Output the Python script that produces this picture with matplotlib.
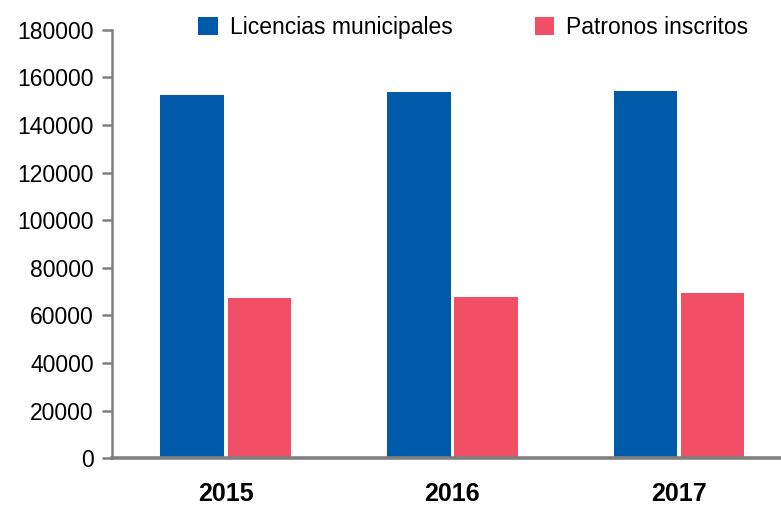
import matplotlib.pyplot as plt
import numpy as np

# Data
years = ['2015', '2016', '2017']
licencias = [152600, 153900, 154300]
patronos = [67500, 67900, 69600]
yticks = list(range(0, 180001, 20000))

blue = '#005aaa'
red = '#f04f65'
gray = '#808080'

plt.rcParams['font.family'] = 'Liberation Sans'

fig = plt.figure(figsize=(7.81, 5.05), dpi=100)
ax = fig.add_axes([0.1434, 0.0925, 0.8566, 0.8483])

x = np.arange(len(years))
w = 0.28
ax.bar(x - 0.148, licencias, width=w, color=blue, label='Licencias municipales')
ax.bar(x + 0.148, patronos, width=w, color=red, label='Patronos inscritos')

ax.set_xlim(-0.502, 2.45)
ax.set_ylim(0, 180000)
ax.set_yticks(yticks)
ax.set_yticklabels([str(t) for t in yticks], fontsize=16.5)
ax.set_xticks(x)
ax.set_xticklabels(years, fontsize=18, fontweight='bold')

for s in ['top', 'right']:
    ax.spines[s].set_visible(False)
ax.spines['left'].set_color(gray)
ax.spines['left'].set_linewidth(1.8)
ax.spines['bottom'].set_color(gray)
ax.spines['bottom'].set_linewidth(2.6)
ax.tick_params(axis='y', length=7, width=1.8, color=gray, pad=6)
ax.tick_params(axis='x', length=0, pad=17)

fig.legend(loc='center', bbox_to_anchor=(0.606, 0.945), ncol=2, frameon=False,
           fontsize=16.5, handlelength=0.85, handleheight=0.85, handletextpad=0.52,
           columnspacing=3.6)

fig.savefig('out.png', dpi=100)
